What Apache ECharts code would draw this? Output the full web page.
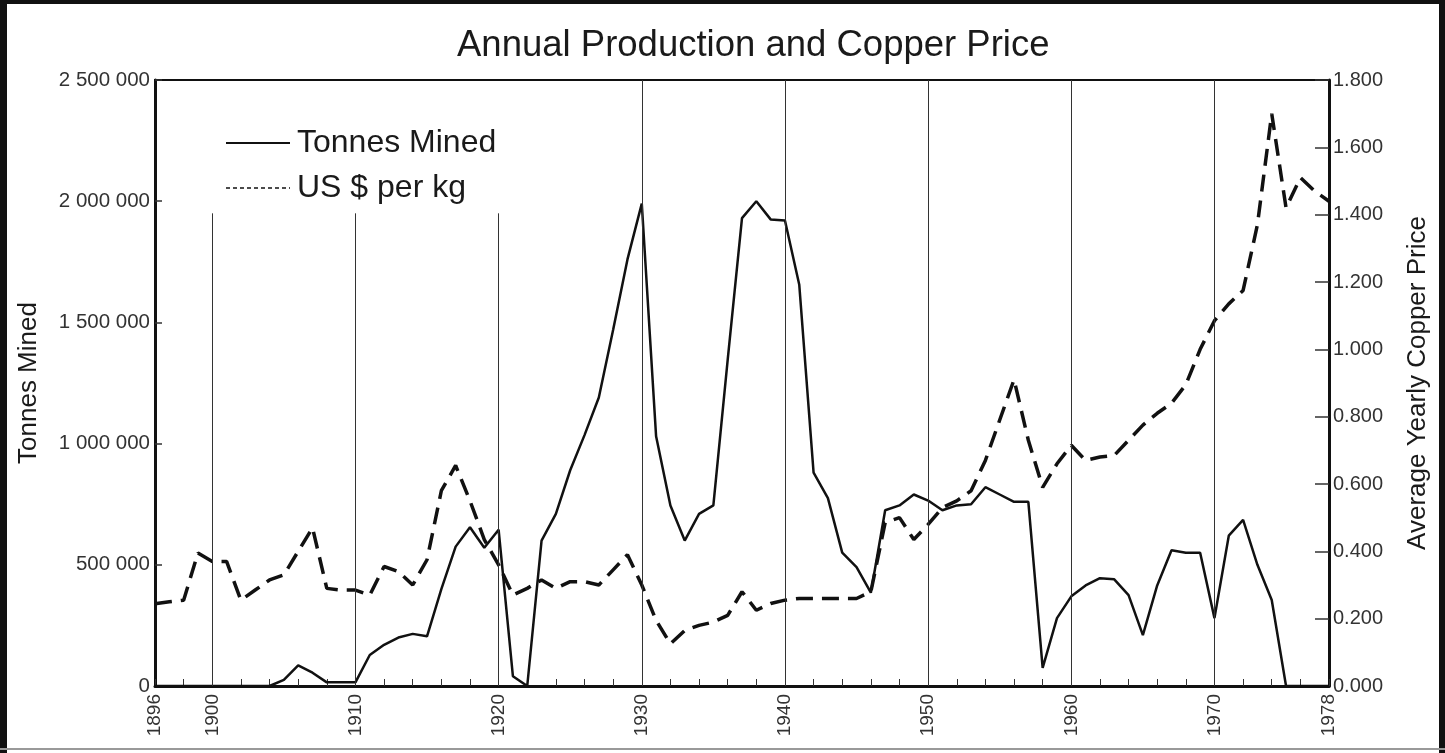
<!DOCTYPE html>
<html>
<head>
<meta charset="utf-8">
<script src="https://cdn.jsdelivr.net/npm/echarts@6/dist/echarts.min.js"></script>
<style>
html,body{margin:0;padding:0;background:#fff;}
#c{width:1445px;height:753px;}
</style>
</head>
<body>
<div id="c"></div>
<script>
// ---- data ----
const years = [1896,1897,1898,1899,1900,1901,1902,1903,1904,1905,1906,1907,1908,1909,1910,
  1911,1912,1913,1914,1915,1916,1917,1918,1919,1920,1921,1922,1923,1924,1925,1926,1927,1928,1929,1930,
  1931,1932,1933,1934,1935,1936,1937,1938,1939,1940,1941,1942,1943,1944,1945,1946,1947,1948,1949,1950,
  1951,1952,1953,1954,1955,1956,1957,1958,1959,1960,1961,1962,1963,1964,1965,1966,1967,1968,1969,1970,
  1971,1972,1973,1974,1975,1976,1977,1978];
const tonnesMined = [0,0,0,0,0,0,0,0,0,25000,85000,55000,15000,15000,15000,
  128000,170000,200000,215000,205000,400000,575000,655000,570000,645000,40000,0,600000,710000,890000,1035000,1190000,1470000,1760000,1990000,
  1030000,745000,600000,710000,745000,1345000,1930000,2000000,1925000,1920000,1655000,880000,775000,550000,490000,385000,725000,745000,790000,765000,
  725000,745000,750000,820000,790000,760000,760000,75000,280000,370000,415000,445000,440000,375000,210000,415000,560000,550000,550000,280000,
  620000,685000,500000,355000,0,0,0,0];
const usdPerKg = [0.244,0.25,0.255,0.395,0.37,0.37,0.255,0.285,0.315,0.33,0.40,0.47,0.29,0.285,0.285,
  0.27,0.355,0.34,0.30,0.375,0.58,0.655,0.55,0.435,0.36,0.27,0.29,0.315,0.29,0.31,0.31,0.30,0.345,0.39,0.30,
  0.195,0.125,0.165,0.18,0.19,0.21,0.28,0.225,0.245,0.255,0.26,0.26,0.26,0.26,0.26,0.28,0.485,0.50,0.435,0.48,
  0.53,0.55,0.58,0.67,0.79,0.91,0.73,0.59,0.66,0.715,0.67,0.68,0.685,0.73,0.775,0.81,0.84,0.895,1.00,1.085,
  1.135,1.175,1.37,1.70,1.42,1.51,1.47,1.44];
const xLabelYears = [1896,1900,1910,1920,1930,1940,1950,1960,1970,1978];
const shortGridYears = [1900,1910,1920];
const fullGridYears = [1930,1940,1950,1960,1970];
const shortGridTop = 1950000;
const leftMax = 2500000, leftStep = 500000;
const rightMax = 1.8, rightStep = 0.2;

const FONT = "'Liberation Sans', Arial, Helvetica, sans-serif";
const chart = echarts.init(document.getElementById('c'), null, {renderer:'canvas'});

const gridLines = [];
shortGridYears.forEach(y => gridLines.push([{coord:[y, shortGridTop]},{coord:[y, 0]}]));
fullGridYears.forEach(y => gridLines.push([{coord:[y, leftMax]},{coord:[y, 0]}]));

const option = {
  backgroundColor: '#fff',
  animation: false,
  textStyle: {fontFamily: FONT},
  title: {
    text: 'Annual Production and Copper Price',
    left: 452, top: 22,
    textStyle: {fontFamily: FONT, fontSize: 36.5, fontWeight: 'normal', color: '#1a1a1a'}
  },
  legend: {
    orient: 'vertical', left: 220, top: 122,
    itemWidth: 64, itemHeight: 14, itemGap: 13,
    textStyle: {fontFamily: FONT, fontSize: 32, color: '#1a1a1a', padding:[0,0,0,2]},
    data: [
      {name: 'Tonnes Mined', itemStyle: {opacity: 0, borderWidth: 0}, lineStyle: {width: 2, color: '#111', type: 'solid'}},
      {name: 'US $ per kg', itemStyle: {opacity: 0, borderWidth: 0}, lineStyle: {width: 1.5, color: '#111', type: [4, 3]}}
    ]
  },
  grid: {left: 155, right: 116, top: 80, bottom: 67, show: true, borderColor: '#111', borderWidth: 2, backgroundColor: 'transparent'},
  xAxis: {
    type: 'value', min: 1896, max: 1978, interval: 2,
    axisLine: {show: true, lineStyle: {color: '#111', width: 3}},
    axisTick: {show: true, inside: true, length: 7, lineStyle: {color: '#333', width: 1}},
    splitLine: {show: false},
    axisLabel: {
      customValues: xLabelYears, rotate: 90, margin: 8,
      fontFamily: FONT, fontSize: 19, color: '#333',
      formatter: v => String(v)
    }
  },
  yAxis: [
    {
      type: 'value', min: 0, max: leftMax, interval: leftStep,
      name: 'Tonnes Mined', nameLocation: 'middle', nameGap: 113,
      nameTextStyle: {fontFamily: FONT, fontSize: 26, color: '#1a1a1a'},
      axisLine: {show: true, lineStyle: {color: '#111', width: 3}},
      axisTick: {show: true, inside: true, length: 7, lineStyle: {color: '#333', width: 1.5}},
      splitLine: {show: false},
      axisLabel: {
        margin: 5, fontFamily: FONT, fontSize: 20.5, color: '#333',
        formatter: v => String(v).replace(/\B(?=(\d{3})+(?!\d))/g, ' ')
      }
    },
    {
      type: 'value', min: 0, max: rightMax, interval: rightStep, position: 'right',
      name: 'Average Yearly Copper Price', nameLocation: 'middle', nameGap: 76,
      nameTextStyle: {fontFamily: FONT, fontSize: 26, color: '#1a1a1a'},
      axisLine: {show: true, lineStyle: {color: '#111', width: 3}},
      axisTick: {show: true, inside: true, length: 14, lineStyle: {color: '#333', width: 1.5}},
      splitLine: {show: false},
      axisLabel: {
        margin: 4, fontFamily: FONT, fontSize: 20, color: '#333',
        formatter: v => v.toFixed(3)
      }
    }
  ],
  series: [
    {
      name: 'Tonnes Mined', type: 'line', yAxisIndex: 0,
      data: years.map((y, i) => [y, tonnesMined[i]]),
      symbol: 'none', smooth: false,
      lineStyle: {color: '#111', width: 2.5, type: 'solid'},
      itemStyle: {color: '#111'},
      z: 3,
      markLine: {
        silent: true, symbol: ['none','none'], animation: false,
        label: {show: false},
        lineStyle: {color: '#333', width: 1, type: 'solid'},
        data: gridLines
      }
    },
    {
      name: 'US $ per kg', type: 'line', yAxisIndex: 1,
      data: years.map((y, i) => [y, usdPerKg[i]]),
      symbol: 'none', smooth: false,
      lineStyle: {color: '#111', width: 3.5, type: [17, 9]},
      itemStyle: {color: '#111'},
      z: 4
    }
  ],
  graphic: [
    {type: 'rect', shape: {x: 0, y: 0, width: 7, height: 753}, style: {fill: '#111'}, silent: true},
    {type: 'rect', shape: {x: 0, y: 0, width: 1445, height: 4}, style: {fill: '#111'}, silent: true},
    {type: 'rect', shape: {x: 1439, y: 0, width: 6, height: 753}, style: {fill: '#111'}, silent: true},
    {type: 'rect', shape: {x: 0, y: 748, width: 1445, height: 2}, style: {fill: '#999'}, silent: true}
  ]
};
chart.setOption(option);
</script>
</body>
</html>
